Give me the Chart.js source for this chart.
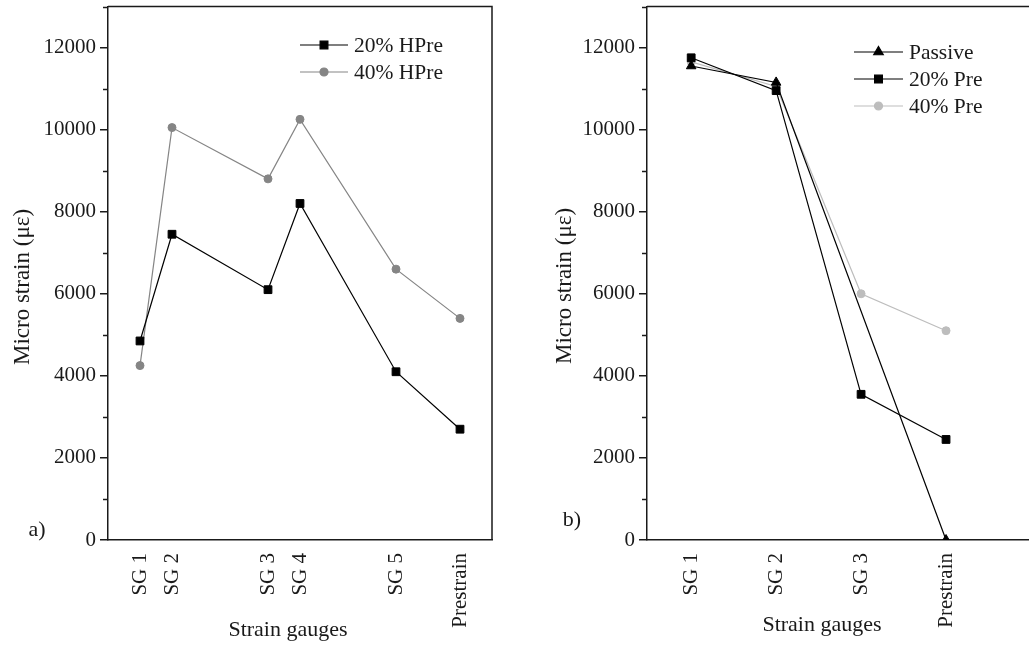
<!DOCTYPE html>
<html>
<head>
<meta charset="utf-8">
<script src="https://cdn.jsdelivr.net/npm/chart.js@4"></script>
<style>
  html, body { margin: 0; padding: 0; background: #fff; overflow: hidden; width: 1029px; height: 646px; }
  #wrapA { position: absolute; left: 0; top: 0; width: 515px; height: 646px; }
  #wrapB { position: absolute; left: 515px; top: 0; width: 530px; height: 646px; }
</style>
</head>
<body>
<div id="wrapA"><canvas id="chartA" width="515" height="646"></canvas></div>
<div id="wrapB"><canvas id="chartB" width="530" height="646"></canvas></div>
<script>
// Panel a) - gauges are placed along the beam, not evenly
const gaugesA = ['SG 1', 'SG 2', 'SG 3', 'SG 4', 'SG 5', 'Prestrain'];
const gaugePosA = [0, 1, 4, 5, 8, 10];
const hpre20 = [4850, 7450, 6100, 8200, 4100, 2700];
const hpre40 = [4250, 10050, 8800, 10250, 6600, 5400];

// Panel b)
const gaugesB = ['SG 1', 'SG 2', 'SG 3', 'Prestrain'];
const gaugePosB = [1, 2, 3, 4];
const passive = [11550, 11150, null, 0];
const pre20 = [11750, 10950, 3550, 2450];
const pre40 = [11650, 11050, 6000, 5100];

const yMajor = [0, 2000, 4000, 6000, 8000, 10000, 12000];

const INK = '#1a1a1a';
const SERIF = 'Liberation Serif';

function toPoints(pos, vals) {
    return vals.map((v, i) => ({ x: pos[i], y: v }));
}

// frame, minor ticks, legend and loose labels
function panelPlugin(cfg) {
    return {
        id: 'panel',
        afterDraw(chart) {
            const ctx = chart.ctx;
            const a = chart.chartArea;
            const y = chart.scales.y;
            ctx.save();
            ctx.strokeStyle = INK;
            ctx.lineWidth = 1.5;
            ctx.beginPath();
            ctx.moveTo(a.left, a.top);
            ctx.lineTo(a.right, a.top);
            ctx.lineTo(a.right, a.bottom);
            ctx.stroke();

            // minor ticks (shorter)
            y.ticks.forEach(t => {
                if (yMajor.includes(t.value)) return;
                const py = Math.round(y.getPixelForValue(t.value)) + 0.5;
                ctx.beginPath();
                ctx.moveTo(a.left - 5, py);
                ctx.lineTo(a.left, py);
                ctx.stroke();
            });

            // legend
            ctx.font = '21.5px "' + SERIF + '"';
            ctx.textBaseline = 'middle';
            ctx.textAlign = 'left';
            cfg.legendOrder.forEach((di, row) => {
                const ds = chart.data.datasets[di];
                const ly = cfg.legY + row * cfg.legStep;
                ctx.strokeStyle = ds.borderColor;
                ctx.lineWidth = ds.borderWidth;
                ctx.beginPath();
                ctx.moveTo(cfg.legX, ly);
                ctx.lineTo(cfg.legX + cfg.legLen, ly);
                ctx.stroke();
                ctx.fillStyle = ds.pointBackgroundColor;
                ctx.strokeStyle = ds.pointBorderColor;
                Chart.helpers.drawPoint(ctx, {
                    pointStyle: ds.pointStyle,
                    radius: ds.pointRadius,
                    rotation: 0,
                    borderWidth: 1
                }, cfg.legX + cfg.legLen / 2, ly);
                ctx.fillStyle = INK;
                ctx.fillText(ds.label, cfg.legX + cfg.legLen + 6, ly + 1);
            });

            // axis titles
            ctx.textAlign = 'center';
            ctx.font = '22px "' + SERIF + '"';
            ctx.fillText('Strain gauges', cfg.titleX, cfg.titleY);
            ctx.save();
            ctx.translate(cfg.yTitleX, cfg.yTitleY);
            ctx.rotate(-Math.PI / 2);
            ctx.font = '23px "' + SERIF + '"';
            ctx.fillText('Micro strain (με)', 0, 0);
            ctx.restore();

            // panel label
            ctx.font = '22px "' + SERIF + '"';
            ctx.fillText(cfg.tag, cfg.tagX, cfg.tagY);
            ctx.restore();
        }
    };
}

function yAxis(width) {
    return {
        min: 0,
        max: 13000,
        ticks: {
            stepSize: 1000,
            autoSkip: false,
            color: INK,
            padding: 4,
            font: { family: SERIF, size: 21 },
            callback: v => yMajor.includes(v) ? String(v) : ''
        },
        grid: {
            drawOnChartArea: false,
            tickLength: 8,
            lineWidth: 1.5,
            color: c => yMajor.includes(c.tick.value) ? INK : 'rgba(0,0,0,0)'
        },
        border: { color: INK, width: 1.5 },
        afterFit: s => {
            s.width = width;
            s.paddingTop = 0;
            s.paddingBottom = 0;
        }
    };
}

function xAxis(min, max, pos, names) {
    return {
        type: 'linear',
        min: min,
        max: max,
        afterBuildTicks: s => { s.ticks = pos.map(v => ({ value: v })); },
        ticks: {
            autoSkip: false,
            minRotation: 90,
            maxRotation: 90,
            padding: 13,
            color: INK,
            font: { family: SERIF, size: 21 },
            callback: v => names[pos.indexOf(v)]
        },
        grid: { display: false, drawTicks: false },
        border: { color: INK, width: 1.5 },
        afterFit: s => {
            s.height = 106;
            s.paddingLeft = 0;
            s.paddingRight = 0;
        }
    };
}

function series(label, pts, color, style, radius, order) {
    return {
        label: label,
        data: pts,
        borderColor: color,
        backgroundColor: color,
        pointBackgroundColor: color,
        pointBorderColor: color,
        borderWidth: 1.2,
        pointStyle: style,
        pointRadius: radius,
        pointBorderWidth: 1,
        spanGaps: true,
        tension: 0,
        clip: { left: false, top: false, right: false, bottom: 0 },
        order: order
    };
}

const chartA = new Chart(document.getElementById('chartA').getContext('2d'), {
    type: 'line',
    data: {
        datasets: [
            series('20% HPre', toPoints(gaugePosA, hpre20), '#000000', 'rect', 5.5, 1),
            series('40% HPre', toPoints(gaugePosA, hpre40), '#858585', 'circle', 4, 2)
        ]
    },
    options: {
        responsive: false,
        animation: false,
        layout: { padding: { left: 0, right: 23, top: 6, bottom: 0 } },
        plugins: { legend: { display: false }, tooltip: { enabled: false } },
        scales: {
            x: xAxis(-1, 11, gaugePosA, gaugesA),
            y: yAxis(108)
        }
    },
    plugins: [panelPlugin({
        legendOrder: [0, 1], legX: 300, legLen: 48, legY: 45, legStep: 27,
        titleX: 288, titleY: 630, yTitleX: 23, yTitleY: 287,
        tag: 'a)', tagX: 37, tagY: 530
    })]
});

const chartB = new Chart(document.getElementById('chartB').getContext('2d'), {
    type: 'line',
    data: {
        datasets: [
            series('Passive', toPoints(gaugePosB, passive), '#000000', 'triangle', 5.5, 1),
            series('20% Pre', toPoints(gaugePosB, pre20), '#000000', 'rect', 5.5, 2),
            series('40% Pre', toPoints(gaugePosB, pre40), '#bdbdbd', 'circle', 4, 3)
        ]
    },
    options: {
        responsive: false,
        animation: false,
        layout: { padding: { left: 28, right: 14, top: 6, bottom: 0 } },
        plugins: { legend: { display: false }, tooltip: { enabled: false } },
        scales: {
            x: xAxis(0.48, 5, gaugePosB, gaugesB),
            y: yAxis(104)
        }
    },
    plugins: [panelPlugin({
        legendOrder: [0, 1, 2], legX: 339, legLen: 49, legY: 52, legStep: 27,
        titleX: 307, titleY: 625, yTitleX: 50, yTitleY: 286,
        tag: 'b)', tagX: 57, tagY: 520
    })]
});
</script>
</body>
</html>
